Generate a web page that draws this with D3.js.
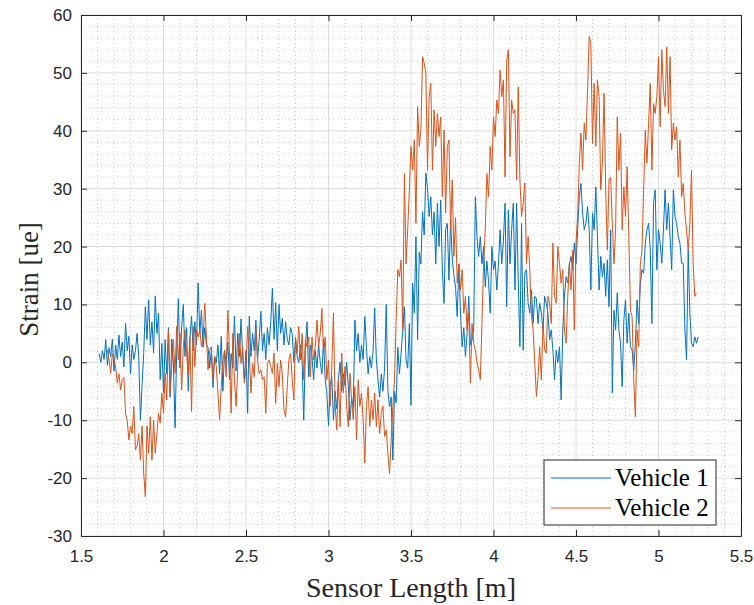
<!DOCTYPE html>
<html>
<head>
<meta charset="utf-8">
<script src="https://cdn.jsdelivr.net/npm/d3@7/dist/d3.min.js"></script>
<style>
  html, body { margin: 0; padding: 0; background: #fff; }
  svg { display: block; }
  .tick text { font-family: "Liberation Sans", Arial, sans-serif; font-size: 17px; fill: #262626; }
  .serif { font-family: "Liberation Serif", "Times New Roman", serif; }
</style>
</head>
<body>
<div id="chart"></div>
<script>
// ---------- Data ----------
const seriesNames = ['Vehicle 1', 'Vehicle 2'];
const xStep = 0.01;
const v1Start = 1.61;
const v2Start = 1.66;

// Vehicle 1 strain [ue], one value per 0.01 m from 1.61 m
const vehicle1 = [
  1.5, 0.0, 2.0, 0.5, 3.9, -0.5, 2.5, 1.0, 4.0, -1.5,           // 1.61-1.70
  3.0, 0.5, 4.7, 1.0, 3.5, -0.8, 6.8, 2.0, 4.5, -2.0,            // 1.71-1.80
  3.0, 0.5, 2.0, 5.0, 1.0, -10.0, -4.0, 1.5, 9.6, 4.0,           // 1.81-1.90
  10.8, 3.0, 7.0, 1.6, 11.4, 5.0, 8.5, -3.0, 3.3, -5.3,          // 1.91-2.00
  3.9, -2.0, 6.0, -6.0, 4.0, 0.0, -11.3, 2.0, 11.0, -1.0,        // 2.01-2.10
  6.0, 10.0, 1.0, 6.0, -5.0, 4.0, 8.0, 2.0, 7.0, 3.0,            // 2.11-2.20
  13.7, 5.0, 9.0, 2.6, 6.0, 3.0, 2.6, -1.0, 2.0, -4.3,           // 2.21-2.30
  1.0, 0.0, 3.0, -2.0, 4.5, -5.0, 2.0, 0.0, 3.5, -3.0,           // 2.31-2.40
  1.5, -1.0, 8.0, -1.5, 5.0, 1.0, 7.5, 1.0, -3.0, 2.0,           // 2.41-2.50
  -8.8, 8.0, 1.0, 5.0, 2.0, 7.3, 0.4, 4.0, 8.8, 2.0,             // 2.51-2.60
  5.0, 0.5, 6.0, 3.0, 7.0, 12.8, 4.0, 10.3, 2.0, 10.0,           // 2.61-2.70
  5.0, 7.6, 3.0, 7.0, 4.0, 3.0, 6.0, 5.0, 0.0, 4.0,              // 2.71-2.80
  1.0, 0.0, 3.0, 0.2, -10.0, 2.6, 7.0, -2.5, 3.0, 1.0,           // 2.81-2.90
  -3.0, 2.0, -1.0, 3.0, 0.0, -2.0, 4.0, -3.0, -5.3, -11.0,       // 2.91-3.00
  -4.0, -2.5, -10.0, -5.0, -8.0, -3.0, 0.0, -5.0, -2.0, -4.0,    // 3.01-3.10
  0.0, -4.0, -10.0, -6.0, -8.0, 7.3, 2.0, 5.0, 0.0, 3.0,         // 3.11-3.20
  0.5, 7.9, 2.6, -2.0, 1.0, -1.0, 2.0, 9.4, 0.4, -3.0,           // 3.21-3.30
  -6.0, -2.0, -5.0, -1.0, 10.0, -5.0, -7.7, -6.0, -16.9, -5.0,   // 3.31-3.40
  -7.0, 2.6, -2.0, 1.6, 5.6, 9.6, 0.4, -1.0, 6.7, -7.4,          // 3.41-3.50
  13.7, 8.5, 21.7, 3.9, 19.0, 17.0, 26.0, 22.0, 32.7, 30.0,      // 3.51-3.60
  25.2, 28.6, 22.0, 26.0, 17.0, 27.5, 20.0, 28.0, 16.0, 10.2,    // 3.61-3.70
  22.9, 24.0, 14.2, 24.6, 18.0, 15.0, 13.0, 7.9, 17.0, 8.5,      // 3.71-3.80
  2.7, 6.0, 1.0, 5.0, 11.4, 3.0, 3.9, 5.6, 28.6, 21.7,           // 3.81-3.90
  18.3, 21.7, 17.0, 20.0, 13.0, 17.5, 14.0, 8.5, 20.0, 16.0,     // 3.91-4.00
  17.5, 12.5, 17.0, 22.9, 17.0, 21.0, 27.5, 9.6, 26.3, 17.0,     // 4.01-4.10
  22.9, 27.5, 12.5, 27.5, 14.2, 2.7, 24.0, 2.1, 15.4, 16.0,      // 4.11-4.20
  10.2, 8.5, 12.5, 6.7, 11.4, 11.0, 6.7, 10.2, 8.5, 5.6,         // 4.21-4.30
  11.4, 10.2, 8.5, 3.9, 5.6, 2.1, -3.0, 2.1, 0.0, 2.7,           // 4.31-4.40
  -6.5, 5.6, 11.4, 14.8, 13.7, 17.0, 18.3, 16.0, 20.6, 17.0,     // 4.41-4.50
  22.9, 28.6, 30.9, 25.8, 22.9, 24.0, 26.9, 22.9, 12.5, 25.8,    // 4.51-4.60
  22.9, 30.3, 21.7, 12.5, 18.3, 14.8, 17.1, 11.4, 17.7, 9.6,     // 4.61-4.70
  22.9, -5.3, 9.0, 5.6, 12.0, 5.6, 3.3, -4.2, 7.3, 10.8,         // 4.71-4.80
  3.3, 8.5, 2.7, 2.1, -1.3, 3.3, 10.8, 6.7, 13.7, 16.0,          // 4.81-4.90
  15.4, 20.6, 22.9, 24.0, 19.4, 6.7, 27.5, 29.8, 16.0, 22.9,     // 4.91-5.00
  20.6, 17.1, 22.9, 29.8, 22.9, 27.5, 21.7, 16.0, 29.8, 25.2,    // 5.01-5.10
  24.0, 21.7, 20.6, 17.1, 17.1, 5.6, 0.4, 19.4, 8.5, 3.3,        // 5.11-5.20
  2.7, 4.4, 3.3, 4.4                                             // 5.21-5.24
];

// Vehicle 2 strain [ue], one value per 0.01 m from 1.66 m
const vehicle2 = [
  2.1, 0.5, -1.9, 1.5, 0.4,                                      // 1.66-1.70
  -0.8, -3.6, -2.0, -4.8, -3.0, -2.6, -8.8, -10.0, -13.4, -11.0, // 1.71-1.80
  -12.3, -7.6, -15.1, -14.5, -12.3, -16.9, -11.0, -19.2, -23.2, -11.0, // 1.81-1.90
  -15.7, -9.4, -16.9, -10.0, -15.7, -12.3, -8.8, -10.5, -5.3, -8.8,    // 1.91-2.00
  -1.9, -6.5, 5.6, -5.3, -0.7, 3.9, -1.9, 6.2, 0.4, 5.0,         // 2.01-2.10
  -4.8, 2.7, 5.6, 1.6, -1.9, 4.4, -8.5, 6.2, -0.7, 5.6,          // 2.11-2.20
  4.4, 5.6, 2.7, 4.0, 10.2, 4.4, -1.3, 2.0, 2.7, -3.0,           // 2.21-2.30
  1.0, -0.7, -5.3, -9.9, -4.2, 0.4, 2.1, -2.5, 9.0, 1.6,         // 2.31-2.40
  -8.8, 5.0, -3.0, -7.6, -0.7, 5.0, -0.2, 2.7, -3.6, -1.3,       // 2.41-2.50
  6.2, 1.6, -5.3, -0.2, -2.5, 5.6, 0.4, -1.9, -1.3, -3.0,        // 2.51-2.60
  -2.5, -8.8, -0.2, 0.4, -0.7, -1.9, 1.6, -7.1, -0.2, -4.2,      // 2.61-2.70
  0.4, -1.9, -8.2, -9.4, -4.2, 0.4, 1.6, -3.0, -6.5, 4.4,        // 2.71-2.80
  1.6, 6.2, 0.4, 5.0, -3.0, 3.9, 2.7, 4.4, -2.5, 4.4,            // 2.81-2.90
  0.4, 2.7, 7.3, 2.7, 5.0, 9.3, 1.6, 4.4, -3.0, 0.4,             // 2.91-3.00
  -7.6, -0.7, 8.5, -7.1, -11.7, -3.0, -11.1, 1.6, -5.3, -0.7,    // 3.01-3.10
  -7.6, -11.1, -1.9, -6.5, -9.9, -4.2, -13.4, -3.0, -7.6, -5.3,  // 3.11-3.20
  -9.9, -17.4, -7.6, -4.2, -11.1, -6.5, -9.9, -5.3, -11.1, -6.5, // 3.21-3.30
  -12.3, -8.8, -7.6, -12.8, -11.7, -15.7, -19.2, -13.4, -7.6, -3.0, // 3.31-3.40
  7.3, 16.0, 14.8, 17.7, 5.6, 32.6, 17.0, 22.9, 29.8, 37.3,      // 3.41-3.50
  33.2, 38.4, 24.0, 44.2, 37.3, 40.1, 52.8, 51.7, 49.9, 33.2,    // 3.51-3.60
  45.9, 48.2, 33.2, 43.6, 37.3, 43.0, 39.0, 42.4, 28.6, 40.1,    // 3.61-3.70
  25.8, 37.3, 38.4, 22.9, 31.5, 18.3, 25.0, 13.7, 17.0, 12.5,    // 3.71-3.80
  16.0, 8.5, 11.4, 5.6, 8.5, -3.6, 6.7, 3.3, 2.1, 0.0,           // 3.81-3.90
  -1.3, -3.0, 6.7, 17.0, 22.9, 32.6, 28.6, 37.3, 33.2, 42.4,     // 3.91-4.00
  39.0, 45.3, 43.0, 50.5, 45.9, 48.8, 32.0, 52.2, 54.0, 35.5,    // 4.01-4.10
  45.3, 43.0, 43.6, 31.5, 47.6, 31.5, 25.2, 27.5, 31.0, 17.0,    // 4.11-4.20
  21.7, 16.0, 7.9, 5.6, 0.0, -5.9, -2.5, 2.7, -3.0, 6.7,         // 4.21-4.30
  2.1, 1.6, 11.4, 10.2, 6.7, 20.6, 11.4, 10.2, 20.0, 17.1,       // 4.31-4.40
  13.7, 16.0, 5.6, 3.3, 11.4, 17.0, 12.5, 19.4, 5.6, 20.6,       // 4.41-4.50
  25.2, 34.4, 39.6, 33.2, 41.3, 38.4, 47.0, 56.3, 55.1, 37.8,    // 4.51-4.60
  48.2, 37.3, 48.8, 45.9, 29.8, 34.4, 46.5, 29.8, 19.4, 31.5,    // 4.61-4.70
  32.0, 24.0, 17.0, 22.9, 42.4, 33.2, 39.6, 22.9, 30.3, 25.2,    // 4.71-4.80
  33.8, 21.7, 9.0, 7.9, -3.0, -9.4, 5.6, 2.7, 17.0, 19.4,        // 4.81-4.90
  29.8, 40.1, 34.4, 41.3, 48.2, 33.2, 44.7, 43.0, 45.9, 52.8,    // 4.91-5.00
  40.7, 54.0, 47.0, 44.2, 54.5, 43.0, 52.8, 36.7, 41.3, 38.4,    // 5.01-5.10
  40.7, 32.0, 38.4, 28.6, 30.9, 25.8, 22.9, 19.4, 24.0, 33.2,    // 5.11-5.20
  17.1, 11.4, 12.0                                               // 5.21-5.23
];

const xTicks = [1.5, 2, 2.5, 3, 3.5, 4, 4.5, 5, 5.5];
const yTicks = [-30, -20, -10, 0, 10, 20, 30, 40, 50, 60];

// ---------- Layout ----------
const W = 754, H = 605;
const m = { t: 15, r: 13, b: 69, l: 81 };
const iw = W - m.l - m.r, ih = H - m.t - m.b;
const colors = ['#0072BD', '#D95319'];
const axisColor = '#262626';

const svg = d3.select('#chart').append('svg').attr('width', W).attr('height', H);
const g = svg.append('g').attr('transform', `translate(${m.l},${m.t})`);

const x = d3.scaleLinear().domain([1.5, 5.5]).range([0, iw]);
const y = d3.scaleLinear().domain([-30, 60]).range([ih, 0]);

// minor grid (dotted)
const xMinor = d3.range(15, 56).map(d => d / 10).filter(d => Math.abs(d * 2 - Math.round(d * 2)) > 1e-6);
const yMinor = d3.range(-30, 61, 2).filter(d => d % 10 !== 0);
g.append('g').selectAll('line').data(xMinor).join('line')
  .attr('x1', d => x(d)).attr('x2', d => x(d)).attr('y1', 0).attr('y2', ih)
  .attr('stroke', '#c8c8c8').attr('stroke-width', 1).attr('stroke-dasharray', '1,3');
g.append('g').selectAll('line').data(yMinor).join('line')
  .attr('y1', d => y(d)).attr('y2', d => y(d)).attr('x1', 0).attr('x2', iw)
  .attr('stroke', '#c8c8c8').attr('stroke-width', 1).attr('stroke-dasharray', '1,3');

// major grid
g.append('g').selectAll('line').data(xTicks).join('line')
  .attr('x1', d => x(d)).attr('x2', d => x(d)).attr('y1', 0).attr('y2', ih)
  .attr('stroke', '#dedede').attr('stroke-width', 1);
g.append('g').selectAll('line').data(yTicks).join('line')
  .attr('y1', d => y(d)).attr('y2', d => y(d)).attr('x1', 0).attr('x2', iw)
  .attr('stroke', '#dedede').attr('stroke-width', 1);

// series
const toPoints = (vals, x0) => vals.map((v, i) => [x0 + i * xStep, v]);
const line = d3.line().x(d => x(d[0])).y(d => y(d[1]));
[[vehicle1, v1Start], [vehicle2, v2Start]].forEach(([vals, x0], i) => {
  g.append('path').datum(toPoints(vals, x0))
    .attr('fill', 'none').attr('stroke', colors[i]).attr('stroke-width', 1)
    .attr('stroke-linejoin', 'round').attr('d', line);
});

// axes (box with inward ticks)
const fmt = d => String(d);
const styleAxis = sel => {
  sel.select('.domain').attr('stroke', axisColor);
  sel.selectAll('.tick line').attr('stroke', axisColor);
};
g.append('g').attr('transform', `translate(0,${ih})`)
  .call(d3.axisBottom(x).tickValues(xTicks).tickFormat(fmt).tickSizeInner(-6).tickSizeOuter(0).tickPadding(14))
  .call(styleAxis);
g.append('g')
  .call(d3.axisLeft(y).tickValues(yTicks).tickFormat(fmt).tickSizeInner(-6).tickSizeOuter(0).tickPadding(9))
  .call(styleAxis);
g.append('g')
  .call(d3.axisTop(x).tickValues(xTicks).tickFormat('').tickSizeInner(-6).tickSizeOuter(0))
  .call(styleAxis);
g.append('g').attr('transform', `translate(${iw},0)`)
  .call(d3.axisRight(y).tickValues(yTicks).tickFormat('').tickSizeInner(-6).tickSizeOuter(0))
  .call(styleAxis);

// axis labels
svg.append('text').attr('class', 'serif')
  .attr('x', m.l + iw / 2).attr('y', 597)
  .attr('text-anchor', 'middle')
  .style('font-size', '28px').attr('fill', axisColor)
  .text('Sensor Length [m]');
svg.append('text').attr('class', 'serif')
  .attr('transform', `translate(38,${m.t + ih / 2 + 4}) rotate(-90)`)
  .attr('text-anchor', 'middle')
  .style('font-size', '27px').attr('fill', axisColor)
  .text('Strain [ue]');

// legend
const lg = svg.append('g').attr('transform', 'translate(544,460)');
lg.append('rect').attr('width', 172).attr('height', 65)
  .attr('fill', '#fff').attr('stroke', axisColor).attr('stroke-width', 1);
seriesNames.forEach((name, i) => {
  const cy = 18 + i * 30;
  lg.append('line').attr('x1', 7).attr('x2', 67).attr('y1', cy).attr('y2', cy)
    .attr('stroke', colors[i]).attr('stroke-width', 1);
  lg.append('text').attr('class', 'serif').attr('x', 71).attr('y', cy + 8)
    .style('font-size', '25px').attr('fill', '#000')
    .text(name);
});
</script>
</body>
</html>
